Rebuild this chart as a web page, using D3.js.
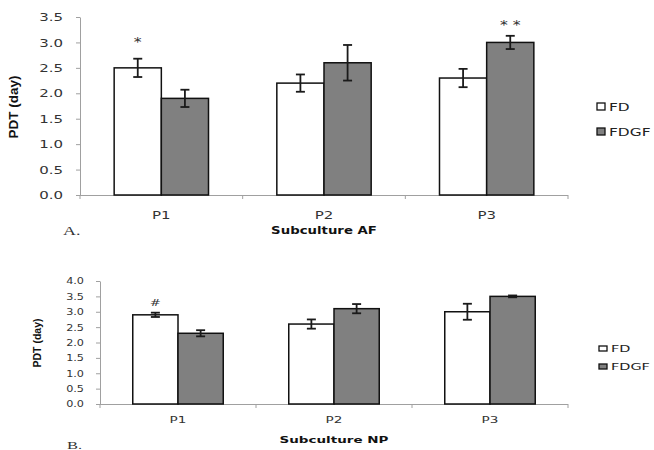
<!DOCTYPE html>
<html>
<head>
<meta charset="utf-8">
<script src="https://cdn.jsdelivr.net/npm/d3@7"></script>
<style>
  html, body { margin: 0; padding: 0; background: #fff; }
  svg { display: block; }
</style>
</head>
<body>
<svg id="chart" width="654" height="450"></svg>
<script>
// ---------- data ----------
const categories = ["P1", "P2", "P3"];
const seriesNames = ["FD", "FDGF"];

// Panel A: Subculture AF
const afFD = [2.5, 2.2, 2.3];
const afFDGF = [1.9, 2.6, 3.0];
const afFDErr = [0.18, 0.17, 0.18];
const afFDGFErr = [0.17, 0.35, 0.13];
const afTicks = [0.0, 0.5, 1.0, 1.5, 2.0, 2.5, 3.0, 3.5];
const afMarks = [
  { cat: "P1", series: "FD", label: "*", level: 2.93 },
  { cat: "P3", series: "FDGF", label: "* *", level: 3.27 }
];

// Panel B: Subculture NP
const npFD = [2.9, 2.6, 3.0];
const npFDGF = [2.3, 3.1, 3.5];
const npFDErr = [0.07, 0.15, 0.26];
const npFDGFErr = [0.10, 0.15, 0.03];
const npTicks = [0.0, 0.5, 1.0, 1.5, 2.0, 2.5, 3.0, 3.5, 4.0];
const npMarks = [
  { cat: "P1", series: "FD", label: "#", level: 3.18 }
];

// ---------- drawing ----------
const svg = d3.select("#chart");

function stext(g, x, y, str, o) {
  const t = g.append("text")
    .attr("transform", `translate(${x},${y}) scale(${o.sx || 1},1)`)
    .attr("text-anchor", o.anchor || "start")
    .attr("font-family", o.family || "'DejaVu Sans', Verdana, sans-serif")
    .attr("font-size", o.size)
    .attr("font-weight", o.weight || "normal")
    .attr("fill", o.fill || "#222")
    .text(str);
  return t;
}

function drawPanel(cfg) {
  const g = svg.append("g");
  const pad = 0.42;
  const x = d3.scaleBand().domain(categories).range([cfg.x0, cfg.x1])
    .paddingInner(pad).paddingOuter(pad / 2);
  const xs = d3.scaleBand().domain(seriesNames).range([0, x.bandwidth()]);
  const y = d3.scaleLinear().domain([0, cfg.ymax]).range([cfg.yb, cfg.yt]);

  const rows = [];
  categories.forEach((c, i) => {
    rows.push({ cat: c, series: "FD", v: cfg.fd[i], e: cfg.fdErr[i] });
    rows.push({ cat: c, series: "FDGF", v: cfg.fdgf[i], e: cfg.fdgfErr[i] });
  });
  const fill = { FD: "#ffffff", FDGF: "#808080" };

  // y axis
  const yAxis = g.append("g").attr("transform", `translate(${cfg.x0},0)`)
    .call(d3.axisLeft(y).tickValues(cfg.ticks).tickFormat(d3.format(".1f")).tickSize(4).tickSizeOuter(0));
  yAxis.select(".domain").attr("stroke", "#a0a0a0");
  yAxis.selectAll(".tick line").attr("stroke", "#a0a0a0");
  yAxis.selectAll(".tick text")
    .attr("x", null).attr("dy", null)
    .attr("transform", `translate(${-cfg.tickGap},${cfg.tickFont * 0.36}) scale(${cfg.tickSx},1)`)
    .attr("font-family", "'DejaVu Sans', Verdana, sans-serif")
    .attr("font-size", cfg.tickFont)
    .attr("fill", "#333");

  // x axis
  g.append("line").attr("x1", cfg.x0).attr("x2", cfg.x1)
    .attr("y1", cfg.yb + 0.5).attr("y2", cfg.yb + 0.5).attr("stroke", "#a0a0a0");
  const bounds = [cfg.x0].concat(categories.map(c => x(c) + x.bandwidth() + x.step() * pad / 2));
  g.selectAll(".xt").data(bounds).enter().append("line")
    .attr("x1", d => d).attr("x2", d => d)
    .attr("y1", cfg.yb).attr("y2", cfg.yb + 4).attr("stroke", "#a0a0a0");
  categories.forEach(c => {
    stext(g, x(c) + x.bandwidth() / 2, cfg.catY, c,
      { size: cfg.catFont, sx: cfg.catSx, anchor: "middle", fill: "#333" });
  });

  // bars
  g.selectAll(".bar").data(rows).enter().append("rect")
    .attr("x", d => x(d.cat) + xs(d.series))
    .attr("y", d => y(d.v))
    .attr("width", xs.bandwidth())
    .attr("height", d => y(0) - y(d.v))
    .attr("fill", d => fill[d.series])
    .attr("stroke", "#111").attr("stroke-width", 1.5);

  // error bars
  const cap = 4.5;
  const eg = g.selectAll(".err").data(rows).enter().append("g")
    .attr("stroke", "#1a1a1a").attr("stroke-width", 1.8);
  const cx = d => x(d.cat) + xs(d.series) + xs.bandwidth() / 2;
  eg.append("line").attr("x1", cx).attr("x2", cx)
    .attr("y1", d => y(d.v + d.e)).attr("y2", d => y(d.v - d.e));
  eg.append("line").attr("x1", d => cx(d) - cap).attr("x2", d => cx(d) + cap)
    .attr("y1", d => y(d.v + d.e)).attr("y2", d => y(d.v + d.e));
  eg.append("line").attr("x1", d => cx(d) - cap).attr("x2", d => cx(d) + cap)
    .attr("y1", d => y(d.v - d.e)).attr("y2", d => y(d.v - d.e));

  // significance marks
  cfg.marks.forEach(m => {
    stext(g, x(m.cat) + xs(m.series) + xs.bandwidth() / 2, y(m.level), m.label,
      { size: cfg.markFont, sx: cfg.markSx, anchor: "middle", fill: "#333" });
  });

  // axis titles
  stext(g, (cfg.x0 + cfg.x1) / 2, cfg.titleY, cfg.title,
    { size: cfg.titleFont, sx: cfg.titleSx, anchor: "middle", weight: "bold", fill: "#111" });
  g.append("text")
    .attr("transform", `translate(${cfg.yTitleX},${cfg.yTitleY}) rotate(-90)`)
    .attr("text-anchor", "middle")
    .attr("font-family", "'Liberation Sans Narrow', 'Liberation Sans', Arial, sans-serif")
    .attr("font-weight", "bold")
    .attr("font-size", cfg.yTitleFont)
    .attr("fill", "#111")
    .text("PDT (day)");

  // panel letter
  stext(g, cfg.letterX, cfg.letterY, cfg.letter,
    { size: cfg.letterFont, sx: 1.5, family: "'Liberation Serif', 'Times New Roman', serif", fill: "#333" });

  // legend
  seriesNames.forEach((s, i) => {
    const ly = cfg.legY + i * cfg.legStep;
    g.append("rect").attr("x", cfg.legX).attr("y", ly - cfg.legH)
      .attr("width", 8).attr("height", cfg.legH)
      .attr("fill", fill[s]).attr("stroke", "#111").attr("stroke-width", 1.3);
    stext(g, cfg.legX + 12, ly + 0.5, s, { size: cfg.legFont, sx: cfg.legSx, fill: "#222" });
  });
}

drawPanel({
  x0: 80, x1: 568, yb: 195, yt: 17, ymax: 3.5,
  fd: afFD, fdgf: afFDGF, fdErr: afFDErr, fdgfErr: afFDGFErr,
  ticks: afTicks, marks: afMarks,
  tickFont: 10, tickSx: 1.5, tickGap: 17,
  catY: 219, catFont: 10, catSx: 1.5,
  markFont: 13, markSx: 1.2,
  title: "Subculture AF", titleY: 234, titleFont: 10, titleSx: 1.33,
  yTitleX: 18, yTitleY: 107, yTitleFont: 13.5,
  letter: "A.", letterX: 63, letterY: 235, letterFont: 12,
  legX: 597, legY: 110, legStep: 25, legH: 7, legFont: 11, legSx: 1.4
});

drawPanel({
  x0: 100, x1: 568, yb: 404, yt: 281, ymax: 4.0,
  fd: npFD, fdgf: npFDGF, fdErr: npFDErr, fdgfErr: npFDGFErr,
  ticks: npTicks, marks: npMarks,
  tickFont: 8, tickSx: 1.4, tickGap: 16,
  catY: 423, catFont: 8, catSx: 1.7,
  markFont: 9.5, markSx: 1.4,
  title: "Subculture NP", titleY: 443, titleFont: 9, titleSx: 1.5,
  yTitleX: 41, yTitleY: 343, yTitleFont: 10.5,
  letter: "B.", letterX: 67, letterY: 449, letterFont: 11,
  legX: 599, legY: 351, legStep: 18, legH: 5, legFont: 8.5, legSx: 1.7
});
</script>
</body>
</html>
